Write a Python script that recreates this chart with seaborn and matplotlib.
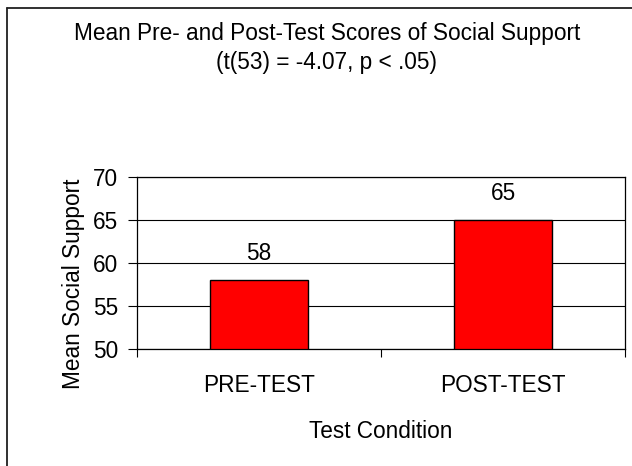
import matplotlib
matplotlib.use("Agg")
import matplotlib.pyplot as plt
import seaborn as sns
import pandas as pd
from matplotlib.lines import Line2D
from matplotlib.ticker import FixedLocator, NullFormatter

categories = ["PRE-TEST", "POST-TEST"]
values = [58, 65]
y_ticks = [50, 55, 60, 65, 70]
title_line1 = "Mean Pre- and Post-Test Scores of Social Support"
title_line2 = "(t(53) = -4.07, p < .05)"

sns.set_style("white")
plt.rcParams["font.family"] = ["Liberation Sans", "DejaVu Sans"]
plt.rcParams["text.color"] = "black"
plt.rcParams["axes.labelcolor"] = "black"
plt.rcParams["xtick.color"] = "black"
plt.rcParams["ytick.color"] = "black"
FS = 16.3

df = pd.DataFrame({"cond": categories, "score": values})

fig = plt.figure(figsize=(6.32, 4.66), dpi=100)
ax = fig.add_axes([137 / 632, 1 - 349 / 466, 488 / 632, 172 / 466])

sns.barplot(data=df, x="cond", y="score", color="#FF0000", width=0.4,
            edgecolor="black", linewidth=1.0, saturation=1, ax=ax)

ax.set_ylim(50, 70)
ax.set_xlim(-0.5, 1.5)
ax.set_yticks(y_ticks)
ax.set_axisbelow(True)
ax.yaxis.grid(True, color="black", linewidth=0.8)
ax.xaxis.grid(False)
for s in ax.spines.values():
    s.set_visible(True)
    s.set_color("black")
    s.set_linewidth(0.9)

ax.tick_params(axis="y", which="major", length=6.5, width=0.8, color="black",
               labelcolor="black", direction="out", pad=7, labelsize=FS, left=True)
ax.tick_params(axis="x", which="major", length=0, pad=18, labelsize=FS,
               labelcolor="black", bottom=True)
ax.xaxis.set_minor_locator(FixedLocator([-0.5, 0.5, 1.5]))
ax.xaxis.set_minor_formatter(NullFormatter())
ax.tick_params(axis="x", which="minor", length=6, width=0.8, color="black",
               direction="out", bottom=True)

for c in ax.containers:
    ax.bar_label(c, labels=[str(v) for v in values], padding=11, fontsize=FS, color="black")

ax.set_xlabel("Test Condition", fontsize=FS, color="black")
ax.set_ylabel("Mean Social Support", fontsize=FS, color="black")
ax.xaxis.set_label_coords(0.5, -0.41)
ax.yaxis.set_label_coords(-0.107, 0.38)

fig.text(0.517, 1 - 40 / 466, title_line1, ha="center", va="baseline", fontsize=FS, color="black")
fig.text(0.517, 1 - 69 / 466, title_line2, ha="center", va="baseline", fontsize=FS, color="black")

# outer frame (left and top edges visible)
fig.add_artist(Line2D([7 / 632, 7 / 632], [0, 1 - 8 / 466], transform=fig.transFigure,
                      color="#202020", linewidth=1.3))
fig.add_artist(Line2D([7 / 632, 1], [1 - 8 / 466, 1 - 8 / 466], transform=fig.transFigure,
                      color="#202020", linewidth=1.3))

fig.savefig("out.png", dpi=100, facecolor="white")
